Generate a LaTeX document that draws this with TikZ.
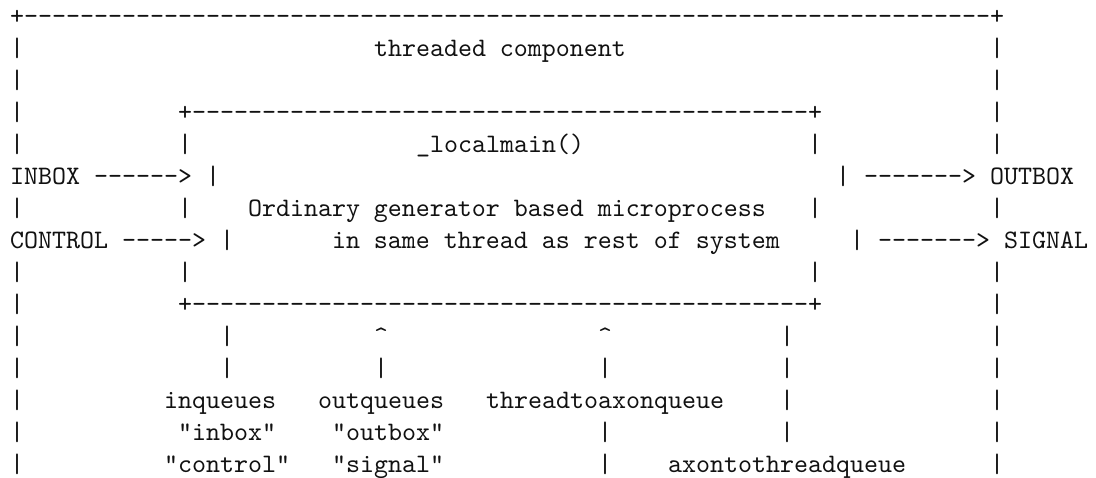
\documentclass[tikz,border=0pt]{standalone}
\usepackage{fontspec}
\setmonofont{lmmono10-regular.otf}
\usepackage{xcolor}
\usepackage{tikz}
\definecolor{bg}{HTML}{FFFFFF}
\definecolor{ink}{HTML}{111111}
\tikzset{
  asciiTxt/.style={anchor=base west, inner sep=0pt, outer sep=0pt, text=ink, font=\ttfamily\fontsize{10}{12}\selectfont},
}
\newcommand{\DashRun}[1]{\foreach \k in {1,...,#1}{-}}
\newcommand{\BarRows}{1,2,3,4,6,8,9,10,11,12,13,14}

\begin{document}
\begin{tikzpicture}[x=5.25pt, y=-12pt]
  \useasboundingbox[fill=bg] (-3.75pt,9pt) rectangle (407.25pt,-169.875pt);

  % outer box
  \node[asciiTxt] (outerTop) at (0,0) {+\DashRun{69}+};
  \foreach \r in \BarRows {
    \node[asciiTxt] (outerL\r) at (0,\r) {|};
    \node[asciiTxt] (outerR\r) at (70,\r) {|};
  }
  \node[asciiTxt] (title) at (26,1) {threaded component};

  % inner box
  \node[asciiTxt] (innerTop) at (12,3) {+\DashRun{44}+};
  \node[asciiTxt] (innerBot) at (12,9) {+\DashRun{44}+};
  \foreach \r in {4,6,8} {
    \node[asciiTxt] (innerL\r) at (12,\r) {|};
    \node[asciiTxt] (innerR\r) at (57,\r) {|};
  }
  \node[asciiTxt] (mainFn) at (29,4) {\_localmain()};
  \node[asciiTxt] (descA)  at (17,6) {Ordinary generator based microprocess};
  \node[asciiTxt] (descB)  at (23,7) {in same thread as rest of system};

  % boxes in and out
  \node[asciiTxt] (inbox)      at (0,5)  {INBOX};
  \node[asciiTxt] (inboxArr)   at (6,5)  {\DashRun{6}>};
  \node[asciiTxt] (inboxBar)   at (14,5) {|};
  \node[asciiTxt] (control)    at (0,7)  {CONTROL};
  \node[asciiTxt] (controlArr) at (8,7)  {\DashRun{5}>};
  \node[asciiTxt] (controlBar) at (15,7) {|};
  \node[asciiTxt] (outboxBar)  at (59,5) {|};
  \node[asciiTxt] (outboxArr)  at (61,5) {\DashRun{7}>};
  \node[asciiTxt] (outbox)     at (70,5) {OUTBOX};
  \node[asciiTxt] (signalBar)  at (60,7) {|};
  \node[asciiTxt] (signalArr)  at (62,7) {\DashRun{7}>};
  \node[asciiTxt] (signal)     at (71,7) {SIGNAL};

  % queues under the inner box
  \foreach \r in {10,11} {
    \node[asciiTxt] (inqStem\r) at (15,\r) {|};
  }
  \node[asciiTxt] (outqTip) at (26,10) {\textasciicircum};
  \node[asciiTxt] (outqStem) at (26,11) {|};
  \node[asciiTxt] (t2aTip) at (42,10) {\textasciicircum};
  \foreach \r in {11,13,14} {
    \node[asciiTxt] (t2aStem\r) at (42,\r) {|};
  }
  \foreach \r in {10,11,12,13} {
    \node[asciiTxt] (a2tStem\r) at (55,\r) {|};
  }
  \node[asciiTxt] (inq)     at (11,12) {inqueues};
  \node[asciiTxt] (inqA)    at (12,13) {"inbox"};
  \node[asciiTxt] (inqB)    at (11,14) {"control"};
  \node[asciiTxt] (outq)    at (22,12) {outqueues};
  \node[asciiTxt] (outqA)   at (23,13) {"outbox"};
  \node[asciiTxt] (outqB)   at (23,14) {"signal"};
  \node[asciiTxt] (t2aQ)    at (34,12) {threadtoaxonqueue};
  \node[asciiTxt] (a2tQ)    at (47,14) {axontothreadqueue};
\end{tikzpicture}
\end{document}
